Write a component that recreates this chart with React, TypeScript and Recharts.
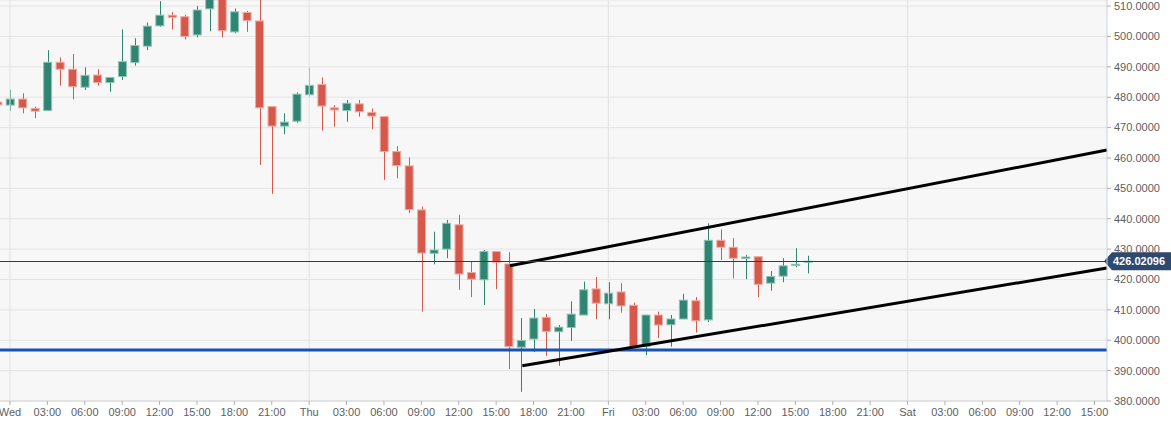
import React from 'react';
import {
  ComposedChart,
  Bar,
  XAxis,
  YAxis,
  CartesianGrid,
  ReferenceLine,
} from 'recharts';

// hours since Wed 00:00, one candle per hour
const hours = [
  -1, 0, 1, 2, 3, 4, 5, 6, 7, 8, 9, 10, 11, 12, 13, 14, 15, 16, 17, 18, 19, 20, 21, 22, 23,
  24, 25, 26, 27, 28, 29, 30, 31, 32, 33, 34, 35, 36, 37, 38, 39, 40, 41, 42, 43, 44, 45, 46, 47,
  48, 49, 50, 51, 52, 53, 54, 55, 56, 57, 58, 59, 60, 61, 62, 63, 64,
];
const opens = [
  478.4, 477.4, 479.4, 476.3, 475.6, 491.5, 489.2, 483.3, 487.3, 484.8, 486.8, 491.4, 496.8, 503.5, 507.0, 506.5, 500.5, 509.1, 513.0, 501.5, 507.9, 505.1, 476.9, 470.5, 472.1,
  480.8, 484.2, 476.5, 475.6, 477.8, 475.0, 473.6, 462.1, 457.4, 442.9, 428.6, 430.0, 438.0, 422.3, 419.9, 429.2, 425.1, 397.7, 400.4, 407.5, 402.8, 404.2, 408.3, 416.9,
  412.0, 415.9, 411.5, 397.9, 408.3, 405.1, 407.0, 413.0, 406.7, 432.9, 430.6, 426.9, 427.5, 418.8, 421.1, 424.6, 425.7,
];
const highs = [
  479.0, 482.4, 481.3, 476.9, 495.5, 493.1, 494.2, 489.8, 489.2, 486.5, 502.3, 499.4, 504.6, 511.6, 508.0, 507.1, 510.0, 514.5, 515.0, 509.2, 508.4, 514.0, 476.9, 474.7, 481.6,
  489.7, 486.5, 477.4, 479.1, 479.1, 476.3, 473.6, 463.9, 460.2, 444.0, 435.7, 439.6, 441.3, 425.9, 429.7, 429.2, 429.0, 407.3, 410.3, 408.6, 405.0, 412.8, 419.3, 420.8,
  419.1, 418.8, 412.4, 408.3, 409.4, 408.3, 415.3, 414.2, 438.5, 436.5, 433.6, 428.1, 427.5, 422.8, 427.0, 430.3, 427.8,
];
const lows = [
  477.0, 475.5, 474.7, 473.1, 475.6, 483.8, 479.3, 482.4, 483.8, 481.8, 485.7, 490.4, 495.5, 503.2, 502.3, 499.0, 499.7, 501.7, 499.7, 501.0, 501.5, 457.7, 448.2, 467.8, 471.6,
  480.2, 469.0, 470.3, 471.9, 473.6, 469.4, 452.8, 453.3, 441.8, 409.4, 425.0, 427.0, 416.6, 414.2, 411.6, 416.8, 390.5, 383.0, 396.1, 394.9, 391.6, 399.8, 408.3, 406.9,
  406.9, 409.1, 397.5, 395.1, 400.7, 397.9, 407.0, 402.5, 406.0, 426.4, 420.4, 420.1, 414.2, 416.3, 419.1, 424.0, 422.0,
];
const closes = [
  477.5, 479.4, 476.5, 475.4, 491.5, 489.2, 483.5, 487.2, 484.8, 486.5, 491.7, 497.0, 503.4, 507.0, 506.3, 500.0, 508.7, 513.0, 501.9, 508.1, 505.2, 476.5, 470.5, 471.8, 481.0,
  483.9, 477.1, 475.8, 478.0, 475.2, 473.8, 462.1, 457.5, 443.0, 428.7, 429.7, 438.5, 421.8, 420.1, 429.2, 425.7, 397.9, 399.9, 407.3, 402.9, 404.3, 408.6, 416.6, 412.2,
  415.5, 411.3, 397.9, 408.3, 405.0, 407.0, 413.2, 406.4, 432.9, 430.6, 427.0, 427.4, 418.4, 421.0, 424.5, 425.0, 426.0,
];

const priceTicks = [380, 390, 400, 410, 420, 430, 440, 450, 460, 470, 480, 490, 500, 510];
const timeTicks = [
  0, 3, 6, 9, 12, 15, 18, 21, 24, 27, 30, 33, 36, 39, 42, 45, 48, 51, 54, 57, 60, 63, 66, 69,
  72, 75, 78, 81, 84, 87,
];
const dayNames = ['Wed', 'Thu', 'Fri', 'Sat'];
const dayStarts = [0, 24, 48, 72];

const lastPrice = 426.02096;
const supportLevel = 396.8;
const upperChannel = [
  { x: 40.1, y: 424.5 },
  { x: 88, y: 462.6 },
];
const lowerChannel = [
  { x: 41.1, y: 391.6 },
  { x: 88, y: 423.8 },
];

const data = hours.map((t, i) => ({
  t,
  o: opens[i],
  h: highs[i],
  l: lows[i],
  c: closes[i],
}));

const UP = '#2f8571';
const UP_EDGE = '#8cc4b5';
const DOWN = '#d6584a';
const DOWN_EDGE = '#eeaaa2';

const Candle = (props: any) => {
  const { x, y, width, height, payload } = props;
  if (x == null || y == null) return null;
  const { o, h, l, c } = payload;
  const up = c >= o;
  const span = h - l || 1;
  const py = (v: number) => y + ((h - v) / span) * height;
  const top = py(Math.max(o, c));
  const bot = py(Math.min(o, c));
  const cx = Math.round(x + width / 2) + 0.5;
  const col = up ? UP : DOWN;
  return (
    <g>
      <line x1={cx} x2={cx} y1={y} y2={y + height} stroke={col} strokeWidth={1} />
      <rect
        x={x + 0.5}
        y={top}
        width={width - 1}
        height={Math.max(bot - top, 1)}
        fill={col}
        stroke={up ? UP_EDGE : DOWN_EDGE}
        strokeWidth={1}
      />
    </g>
  );
};

const timeLabel = (v: number) => {
  const d = Math.floor(v / 24);
  const hr = v % 24;
  if (hr === 0) return dayNames[d];
  return (hr < 10 ? '0' : '') + hr + ':00';
};

const PriceTag = (props: any) => {
  const { viewBox } = props;
  const right = viewBox.x + viewBox.width;
  const y = viewBox.y;
  return (
    <g>
      <polygon
        points={`${right - 3},${y} ${right + 5},${y - 9} ${right + 64},${y - 9} ${right + 64},${y + 9} ${right + 5},${y + 9}`}
        fill="#2d4a6e"
      />
      <text
        x={right + 6}
        y={y + 4}
        fill="#ffffff"
        fontSize={11}
        fontWeight="bold"
        fontFamily="Liberation Sans, Arial, sans-serif"
      >
        {lastPrice.toFixed(5)}
      </text>
    </g>
  );
};

export default function App() {
  return (
    <div style={{ position: 'absolute', left: 0, top: 0, background: '#ffffff' }}>
      <ComposedChart
        width={1171}
        height={432}
        data={data}
        margin={{ top: 0, right: 0, bottom: 0, left: 0 }}
        style={{ fontFamily: 'Liberation Sans, Arial, sans-serif' }}
      >
        <CartesianGrid vertical={false} stroke="#e4e4e4" fill="#f7f7f7" />
        {dayStarts.map((d) => (
          <ReferenceLine key={d} x={d} stroke="#e2e2e2" strokeWidth={1} />
        ))}
        <XAxis
          dataKey="t"
          type="number"
          domain={[-0.8, 88]}
          allowDataOverflow
          ticks={timeTicks}
          tickFormatter={timeLabel}
          interval={0}
          height={31}
          tickSize={4}
          tickMargin={3}
          stroke="#d6d6d6"
          tick={{ fill: '#606060', fontSize: 11 }}
          tickLine={{ stroke: '#b0b0b0' }}
        />
        <YAxis
          orientation="right"
          domain={[380, 512]}
          allowDataOverflow
          ticks={priceTicks}
          tickFormatter={(v: number) => v.toFixed(4)}
          width={64}
          tickSize={4}
          tickMargin={3}
          axisLine={{ stroke: '#c6d1e2' }}
          tickLine={{ stroke: '#b0b0b0' }}
          tick={{ fill: '#606060', fontSize: 11 }}
        />
        <Bar
          dataKey={(d: any) => [d.l, d.h]}
          barSize={9}
          shape={<Candle />}
          isAnimationActive={false}
        />
        <ReferenceLine y={supportLevel} stroke="#1753b3" strokeWidth={3} />
        <ReferenceLine segment={upperChannel} stroke="#000000" strokeWidth={3} ifOverflow="visible" />
        <ReferenceLine segment={lowerChannel} stroke="#000000" strokeWidth={3} ifOverflow="visible" />
        <ReferenceLine
          y={lastPrice}
          stroke="#233f66"
          strokeWidth={1}
          shapeRendering="crispEdges"
          label={<PriceTag />}
        />
      </ComposedChart>
    </div>
  );
}
